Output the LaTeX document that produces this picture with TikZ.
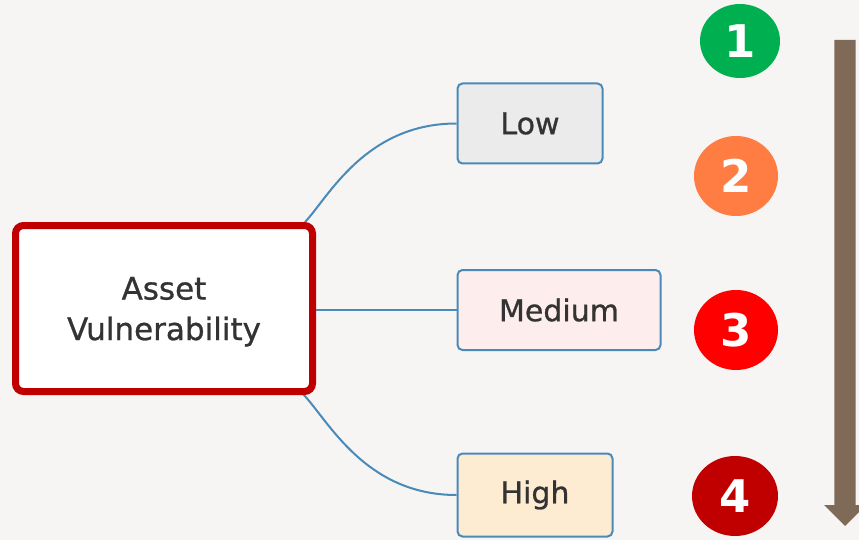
\documentclass[tikz,border=0pt]{standalone}
\usepackage{fontspec}
\setmainfont{DejaVu Sans}
\newfontfamily\labelfont[FakeBold=0.8]{DejaVu Sans}
\usetikzlibrary{shapes.geometric,calc}
\definecolor{bgc}{HTML}{F7F5F3}
\definecolor{mainred}{HTML}{C00000}
\definecolor{linkblue}{HTML}{4A8AB8}
\definecolor{lowfill}{HTML}{EBEBEB}
\definecolor{medfill}{HTML}{FDEDED}
\definecolor{highfill}{HTML}{FDEBD2}
\definecolor{txt}{HTML}{333333}
\definecolor{cgreen}{HTML}{00B050}
\definecolor{corange}{HTML}{FF7C43}
\definecolor{cred}{HTML}{FF0000}
\definecolor{cdark}{HTML}{C00000}
\definecolor{arrowc}{HTML}{7E6A57}
\tikzset{
  mainbox/.style={draw=mainred, line width=7pt, fill=white, rounded corners=8pt,
    minimum width=297pt, minimum height=166pt, inner sep=0pt, align=center,
    text depth=0pt, text=txt, font=\labelfont\fontsize{31}{40.5}\selectfont},
  leafbox/.style={draw=linkblue, line width=2pt, rounded corners=5pt,
    inner sep=0pt, text=txt, font=\labelfont\fontsize{30}{36}\selectfont},
  link/.style={draw=linkblue, line width=2pt},
  numc/.style={ellipse, inner sep=0pt, text=white,
    font=\fontsize{45}{45}\bfseries\selectfont}
}
\begin{document}
\begin{tikzpicture}[x=1pt,y=-1pt]
\fill[bgc] (0,0) rectangle (859,540);
\useasboundingbox (0,0) rectangle (859,540);
\clip (0,0) rectangle (859,540);
% leaves
\node[leafbox, fill=lowfill, minimum width=145pt, minimum height=80pt] (low) at (530,123.5) {Low};
\node[leafbox, fill=medfill, minimum width=203pt, minimum height=80pt] (med) at (559,310) {Medium};
\node[leafbox, fill=highfill, minimum width=155pt, minimum height=83pt] (high) at (535,495) {High};
% links
\coordinate (mainc) at (164,308.5);
\coordinate (topstart) at (305,222);
\coordinate (botstart) at (303,394);
\draw[link] (topstart) .. controls (328,198) and (365,123.5) .. (low.west);
\draw[link] (botstart) .. controls (328,420) and (365,495) .. (high.west);
\node[mainbox] (main) at (mainc) {Asset\\Vulnerability};
\draw[link] (main.east |- med.west) -- (med.west);
% numbers
\node[numc, fill=cgreen, minimum width=80pt, minimum height=74pt] (n1) at (740,41) {\raisebox{-2pt}{1}};
\node[numc, fill=corange, minimum width=84pt, minimum height=80pt] (n2) at (736,176) {2};
\node[numc, fill=cred, minimum width=84pt, minimum height=80pt] (n3) at (736,330) {3};
\node[numc, fill=cdark, minimum width=86pt, minimum height=80pt] (n4) at (735,496) {4};
% arrow
\fill[arrowc] (834.3,40) -- (855.7,40) -- (855.7,505) -- (866,505) -- (845,526)
  -- (824,505) -- (834.3,505) -- cycle;
\end{tikzpicture}
\end{document}
